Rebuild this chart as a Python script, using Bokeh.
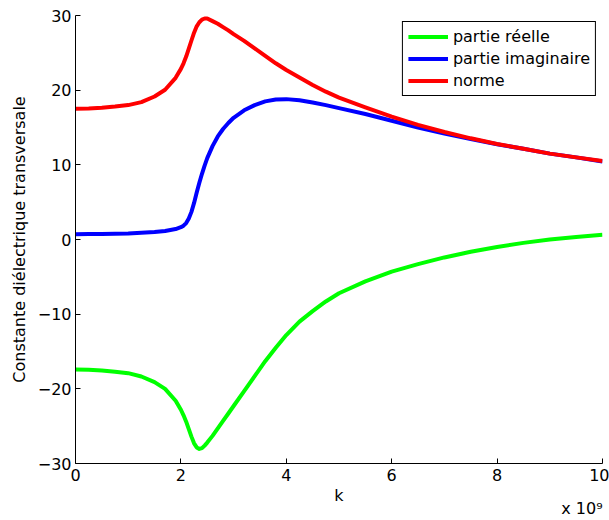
from bokeh.plotting import figure
from bokeh.models import Range1d, FixedTicker, LinearAxis
from bokeh.embed import file_html
from bokeh.resources import INLINE

# k in units of 1e9
k = [0.0, 0.25, 0.5, 0.75, 1.0, 1.25, 1.5, 1.7, 1.9, 2.0, 2.05, 2.1, 2.15, 2.2, 2.25, 2.3,
     2.35, 2.4, 2.45, 2.5, 2.6, 2.7, 2.8, 2.9, 3.0, 3.2, 3.4, 3.6, 3.8, 4.0, 4.25, 4.5,
     4.75, 5.0, 5.5, 6.0, 6.5, 7.0, 7.5, 8.0, 8.5, 9.0, 9.5, 10.0]
partie_reelle = [-17.4, -17.45, -17.55, -17.7, -17.9, -18.35, -19.1, -20.0, -21.6, -22.8,
                 -23.55, -24.4, -25.4, -26.4, -27.3, -27.85, -28.05, -27.95, -27.6, -27.2,
                 -26.3, -25.3, -24.3, -23.3, -22.3, -20.3, -18.3, -16.3, -14.5, -12.8,
                 -11.0, -9.6, -8.3, -7.2, -5.6, -4.3, -3.3, -2.4, -1.65, -1.0, -0.45, 0.0,
                 0.35, 0.65]
partie_imaginaire = [0.7, 0.72, 0.75, 0.78, 0.82, 0.9, 1.0, 1.15, 1.4, 1.65, 1.85, 2.2, 2.8,
                     3.7, 4.9, 6.3, 7.6, 8.8, 9.9, 10.9, 12.5, 13.8, 14.8, 15.6, 16.3, 17.3,
                     18.0, 18.5, 18.75, 18.8, 18.65, 18.35, 18.0, 17.6, 16.8, 15.9, 15.0,
                     14.2, 13.45, 12.75, 12.15, 11.5, 11.0, 10.45]
norme = [17.5, 17.55, 17.65, 17.8, 18.0, 18.4, 19.15, 20.05, 21.65, 22.85, 23.6, 24.5, 25.55,
         26.65, 27.7, 28.55, 29.1, 29.45, 29.6, 29.6, 29.25, 28.9, 28.45, 28.0, 27.5, 26.6,
         25.6, 24.6, 23.6, 22.7, 21.7, 20.7, 19.8, 19.0, 17.7, 16.45, 15.35, 14.4, 13.55,
         12.8, 12.15, 11.5, 11.0, 10.5]

x_ticks = [0, 2, 4, 6, 8, 10]
y_ticks = [-30, -20, -10, 0, 10, 20, 30]
y_tick_labels = {-30: "\u221230", -20: "\u221220", -10: "\u221210", 0: "0", 10: "10", 20: "20", 30: "30"}
x_multiplier_pos = 9.61
x_multiplier_text = "x 10\u2079"

FONT = "DejaVu Sans"

p = figure(width=609, height=520, output_backend="svg", toolbar_location=None,
           x_range=Range1d(0, 10), y_range=Range1d(-30, 30),
           min_border_left=75, min_border_right=7, min_border_top=15, min_border_bottom=56)
p.outline_line_color = None
p.xgrid.grid_line_color = None
p.ygrid.grid_line_color = None
p.background_fill_color = "white"
p.border_fill_color = "white"

p.line(k, partie_reelle, line_color="#00ff00", line_width=4, line_join="round",
       legend_label="partie réelle")
p.line(k, partie_imaginaire, line_color="#0000ff", line_width=4, line_join="round",
       legend_label="partie imaginaire")
p.line(k, norme, line_color="#ff0000", line_width=4, line_join="round",
       legend_label="norme")

for ax in (p.xaxis, p.yaxis):
    ax.axis_line_color = "black"
    ax.axis_line_width = 1
    ax.major_tick_line_color = "black"
    ax.major_tick_in = 5
    ax.major_tick_out = 0
    ax.minor_tick_line_color = None
    ax.major_label_text_font = FONT
    ax.major_label_text_font_size = "16px"
    ax.major_label_text_color = "black"
    ax.axis_label_text_font = FONT
    ax.axis_label_text_font_size = "16px"
    ax.axis_label_text_font_style = "normal"
    ax.axis_label_text_color = "black"

p.xaxis.ticker = FixedTicker(ticks=x_ticks)
p.yaxis.ticker = FixedTicker(ticks=y_ticks)
p.yaxis.major_label_overrides = y_tick_labels
p.xaxis.major_label_standoff = 5
p.yaxis.major_label_standoff = 4
p.xaxis.axis_label = "k"
p.yaxis.axis_label = "Constante diélectrique transversale"
p.xaxis.axis_label_standoff = 2
p.yaxis.axis_label_standoff = 6

# multiplier "x 10^9" under the right end of the x axis
mult = LinearAxis(ticker=FixedTicker(ticks=[x_multiplier_pos]),
                  major_label_overrides={x_multiplier_pos: x_multiplier_text})
mult.axis_line_color = None
mult.major_tick_line_color = None
mult.minor_tick_line_color = None
mult.major_tick_in = 0
mult.major_tick_out = 0
mult.major_label_standoff = -9
mult.major_label_text_font = FONT
mult.major_label_text_font_size = "16px"
mult.major_label_text_color = "black"
p.add_layout(mult, "below")

lg = p.legend[0]
lg.location = "top_right"
lg.margin = 6
lg.padding = 5
lg.spacing = 3
lg.label_height = 15
lg.glyph_height = 15
lg.glyph_width = 40
lg.label_standoff = 5
lg.border_line_color = "black"
lg.border_line_width = 1
lg.border_line_alpha = 1
lg.background_fill_alpha = 1
lg.label_text_font = FONT
lg.label_text_font_size = "16px"
lg.label_text_color = "black"

open("out.html", "w").write(file_html(p, INLINE))
